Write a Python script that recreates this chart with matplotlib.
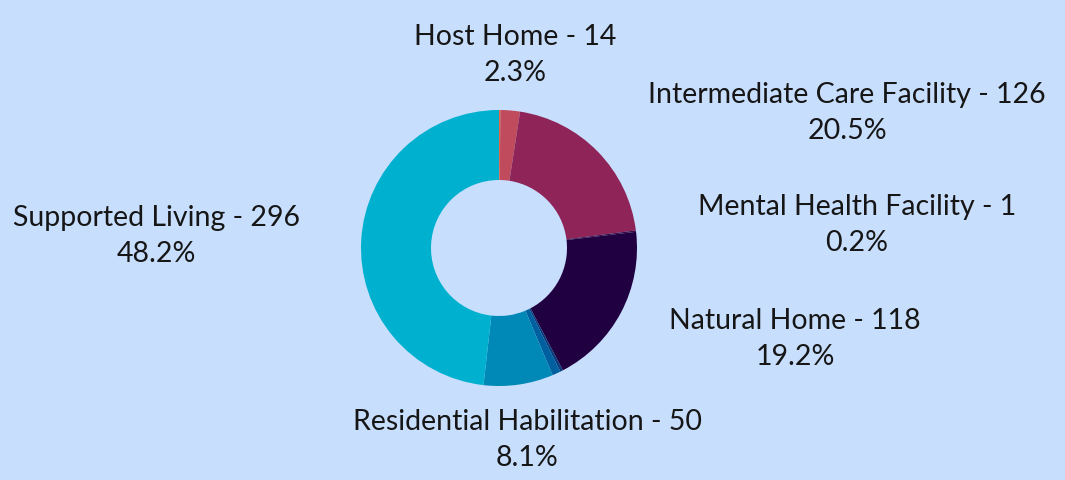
import matplotlib.pyplot as plt
import numpy as np

# slices in clockwise order from the top (unlabelled ones are tiny slivers)
names = ['', 'Host Home', 'Intermediate Care Facility', 'Mental Health Facility',
         'Natural Home', '', '', 'Residential Habilitation', 'Supported Living']
counts = [1, 14, 126, 1, 118, 2, 6, 50, 296]
colors = ['#e8663c', '#c04b5c', '#8e2457', '#3a0a45', '#200040',
          '#0a3a7a', '#005f9f', '#0088b6', '#00b1cf']

# label text positions (pixel space, y from top)
label_x = [None, 515, 847, 857, 795, None, None, 527, 156]
label_y = [None, 55, 113, 225, 339, None, None, 440, 236]

W, H = 1065, 481
bg = '#c8defd'
fig = plt.figure(figsize=(W / 100, H / 100), dpi=100, facecolor=bg)
ax = fig.add_axes([0, 0, 1, 1])
ax.set_facecolor(bg)

cx, cy = 499, H - 249
ax.pie(counts, colors=colors, startangle=90, counterclock=False,
       center=(cx, cy), radius=138, frame=True,
       wedgeprops=dict(width=70, linewidth=0))
ax.set_xlim(0, W)
ax.set_ylim(0, H)
ax.set_aspect('equal')
ax.axis('off')

total = sum(counts)
for n, c, x, y in zip(names, counts, label_x, label_y):
    if not n:
        continue
    pct = 100.0 * c / total
    ax.text(x, H - y, f'{n} - {c}\n{pct:.1f}%', ha='center', va='center',
            fontsize=20.5, color='#161616', family='Lato',
            linespacing=1.45)

fig.savefig('out.png', dpi=100, facecolor=bg)
